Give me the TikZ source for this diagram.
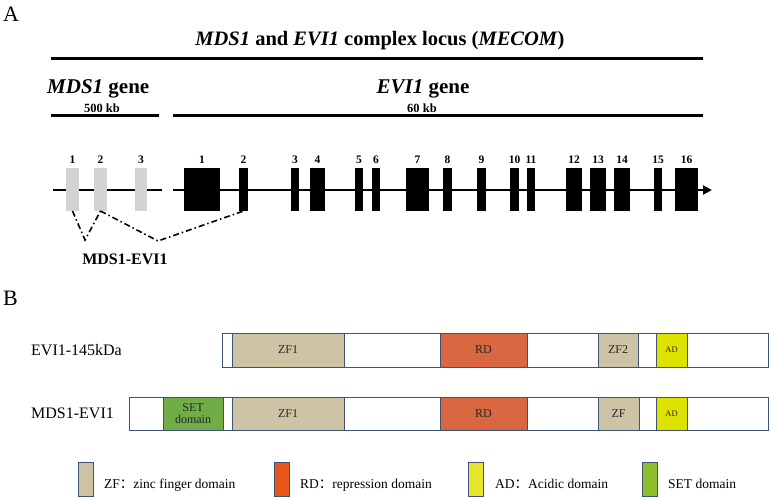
\documentclass[tikz,border=0pt]{standalone}
\usepackage{fontspec}
\setmainfont{Liberation Serif}
\newfontfamily\cjk{Noto Sans CJK SC}
\usetikzlibrary{arrows.meta}
\definecolor{exgray}{HTML}{D3D3D3}
\definecolor{bord}{HTML}{3E5372}
\definecolor{zfc}{HTML}{CEC3A4}
\definecolor{rdc}{HTML}{D86742}
\definecolor{adc}{HTML}{DEE200}
\definecolor{setc}{HTML}{70AD47}
\definecolor{rdl}{HTML}{E8561C}
\definecolor{adl}{HTML}{E5E52A}
\definecolor{setl}{HTML}{8CBE2B}
\begin{document}
\begin{tikzpicture}[x=1pt,y=-1pt,
  bar/.style={line width=3pt},
  geneline/.style={line width=2pt},
  exonblk/.style={fill=black,draw=none,inner sep=0,outer sep=0,minimum height=43pt},
  exongray/.style={fill=exgray,draw=none,inner sep=0,outer sep=0,minimum height=43pt},
  exlab/.style={font=\bfseries\fontsize{11.5}{12}\selectfont,anchor=base,inner sep=0},
  dashdot/.style={line width=1.6pt,dash pattern=on 6pt off 3pt on 1.5pt off 3pt},
  protbox/.style={draw=bord,fill=white,line width=0.9pt,inner sep=0,outer sep=0},
  dom/.style={draw=bord,line width=0.9pt,inner sep=0,outer sep=0,font=\fontsize{12}{13}\selectfont,text=black!85},
  legsw/.style={draw=bord,line width=0.9pt,inner sep=0,outer sep=0,minimum width=15pt,minimum height=34pt},
  legtxt/.style={anchor=base west,inner sep=0,font=\fontsize{13.5}{14}\selectfont},
  panel/.style={anchor=base west,inner sep=0,font=\fontsize{22}{24}\selectfont}
]
\useasboundingbox (0,0) rectangle (771,498);
% ---------- Panel A ----------
\node[panel] (A) at (3,21) {A};
\node[anchor=base,inner sep=0,font=\bfseries\fontsize{20.5}{22}\selectfont] (title) at (380,45)
  {\textit{MDS1} and \textit{EVI1} complex locus (\textit{MECOM})};
\coordinate (tL) at (51,58); \coordinate (tR) at (703,58);
\draw[bar] (tL) -- (tR);
\node[anchor=base west,inner sep=0,font=\bfseries\fontsize{21}{22}\selectfont] (mdsg) at (47,93) {\textit{MDS1} gene};
\node[anchor=base,inner sep=0,font=\bfseries\fontsize{12.5}{13}\selectfont] (kb500) at (102,112) {500 kb};
\node[anchor=base,inner sep=0,font=\bfseries\fontsize{21}{22}\selectfont] (evig) at (423,93) {\textit{EVI1} gene};
\node[anchor=base,inner sep=0,font=\bfseries\fontsize{12.5}{13}\selectfont] (kb60) at (422,112) {60 kb};
\coordinate (mbL) at (51,115); \coordinate (mbR) at (159,115);
\coordinate (ebL) at (173,115); \coordinate (ebR) at (703,115);
\draw[bar] (mbL) -- (mbR);
\draw[bar] (ebL) -- (ebR);
% gene lines
\coordinate (mL) at (53,190); \coordinate (mR) at (162,190);
\coordinate (eL) at (173,190); \coordinate (eR) at (712,190);
\draw[geneline] (mL) -- (mR);
\draw[geneline,-{Triangle[length=9pt,width=9pt]}] (eL) -- (eR);
% MDS1 exons
\foreach \l/\r/\t/\n in {66/79/1/m1,94/107/2/m2,135/147/3/m3}{
  \node[exongray,minimum width={(\r-\l)*1pt}] (\n) at ({(\l+\r)/2},189.5) {};
  \node[exlab] (\n lab) at ({(\l+\r)/2},163) {\t};
}
% EVI1 exons
\foreach \l/\r/\t/\n in {184/220/1/e1,239/248/2/e2,291/299/3/e3,310/325/4/e4,355/363/5/e5,372/380/6/e6,
  406/429/7/e7,443/452/8/e8,477/486/9/e9,510/519/10/e10,527/535/11/e11,566/582/12/e12,
  590/606/13/e13,614/630/14/e14,654/662/15/e15,675/698/16/e16}{
  \node[exonblk,minimum width={(\r-\l)*1pt}] (\n) at ({(\l+\r)/2},189.5) {};
  \node[exlab] (\n lab) at ({(\l+\r)/2},163) {\t};
}
% splicing
\coordinate (v1) at (85,240);
\coordinate (v2) at (158,241);
\draw[dashdot] (m1.south) -- (v1) -- (m2.south);
\draw[dashdot] (m2.south) -- (v2) -- (e2.south);
\node[anchor=base,inner sep=0,font=\bfseries\fontsize{16}{17}\selectfont] (mdsevi) at (125,264) {MDS1-EVI1};
% ---------- Panel B ----------
\node[panel] (B) at (3,305) {B};
\node[anchor=base west,inner sep=0,font=\fontsize{16}{17}\selectfont] (r1lab) at (31,355) {EVI1-145kDa};
\node[protbox,minimum width=546pt,minimum height=34pt] (p1) at (495,350) {};
\node[dom,fill=zfc,minimum width=112pt,minimum height=34pt] (p1zf1) at (288,350) {ZF1};
\node[dom,fill=rdc,minimum width=87pt,minimum height=34pt] (p1rd) at (483.5,350) {RD};
\node[dom,fill=zfc,minimum width=40pt,minimum height=34pt] (p1zf2) at (618,350) {ZF2};
\node[dom,fill=adc,minimum width=31pt,minimum height=34pt,font=\fontsize{8.5}{9}\selectfont] (p1ad) at (671.5,350) {AD};
\node[anchor=base west,inner sep=0,font=\fontsize{16}{17}\selectfont] (r2lab) at (31,418) {MDS1-EVI1};
\node[protbox,minimum width=639pt,minimum height=33pt] (p2) at (448.5,413.5) {};
\node[dom,fill=setc,minimum width=60pt,minimum height=33pt,align=center,font=\fontsize{12}{12.5}\selectfont] (p2set) at (193,413.5) {SET\\domain};
\node[dom,fill=zfc,minimum width=112pt,minimum height=33pt] (p2zf1) at (288,413.5) {ZF1};
\node[dom,fill=rdc,minimum width=87pt,minimum height=33pt] (p2rd) at (483.5,413.5) {RD};
\node[dom,fill=zfc,minimum width=41pt,minimum height=33pt] (p2zf) at (618.5,413.5) {ZF};
\node[dom,fill=adc,minimum width=31pt,minimum height=33pt,font=\fontsize{8.5}{9}\selectfont] (p2ad) at (671.5,413.5) {AD};
% ---------- Legend ----------
\node[legsw,fill=zfc] (lzf) at (85.5,479) {};
\node[legtxt] (lzft) at (104,488) {ZF{\cjk ：}zinc finger domain};
\node[legsw,fill=rdl] (lrd) at (281.5,479) {};
\node[legtxt] (lrdt) at (300,488) {RD{\cjk ：}repression domain};
\node[legsw,fill=adl] (lad) at (475.5,479) {};
\node[legtxt] (ladt) at (495,488) {AD{\cjk ：}Acidic domain};
\node[legsw,fill=setl] (lset) at (649.5,479) {};
\node[legtxt] (lsett) at (668,488) {SET domain};
\end{tikzpicture}
\end{document}
